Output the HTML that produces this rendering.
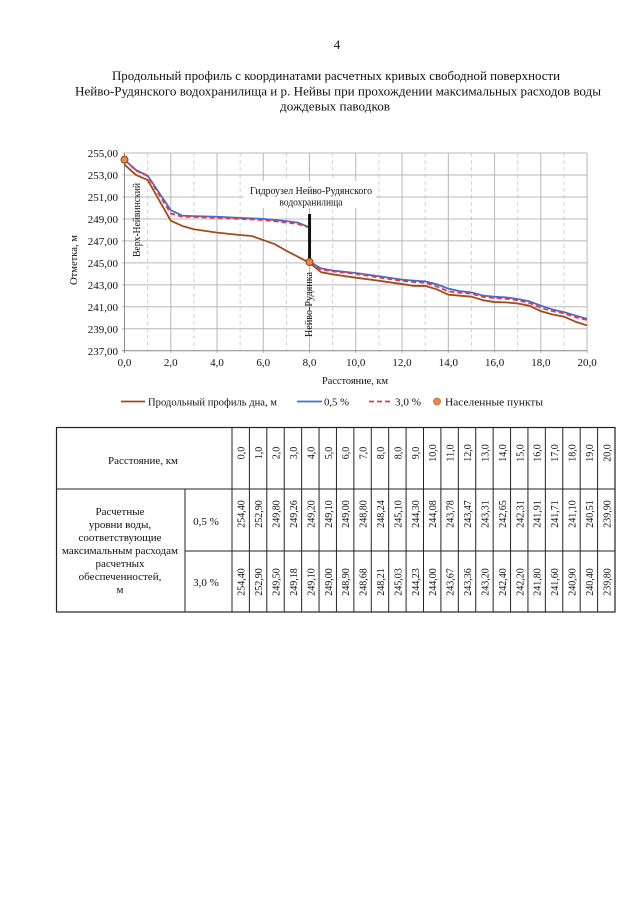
<!DOCTYPE html>
<html><head><meta charset="utf-8"><style>
html,body{margin:0;padding:0;background:#fff;}
svg{display:block;}
text{font-family:"Liberation Serif","Noto Serif CJK SC",serif;fill:#111;}
</style></head><body>
<svg width="640" height="905" viewBox="0 0 640 905" xmlns="http://www.w3.org/2000/svg">
<rect width="640" height="905" fill="#fff"/>
<!-- Header -->
<text x="337" y="49" font-size="13" text-anchor="middle">4</text>
<text x="336" y="80" font-size="13" text-anchor="middle" textLength="448" lengthAdjust="spacingAndGlyphs">Продольный профиль с координатами расчетных кривых свободной поверхности</text>
<text x="338" y="95.5" font-size="13" text-anchor="middle" textLength="526" lengthAdjust="spacingAndGlyphs">Нейво-Рудянского водохранилища и р. Нейвы при прохождении максимальных расходов воды</text>
<text x="335" y="110.5" font-size="13" text-anchor="middle" textLength="110" lengthAdjust="spacingAndGlyphs">дождевых паводков</text>

<!-- Grid -->
<g stroke="#d2d2d2" stroke-width="1" stroke-dasharray="4,3">
<line x1="147.63" y1="153" x2="147.63" y2="350.7"/>
<line x1="193.89" y1="153" x2="193.89" y2="350.7"/>
<line x1="240.15" y1="153" x2="240.15" y2="350.7"/>
<line x1="286.41" y1="153" x2="286.41" y2="350.7"/>
<line x1="332.67" y1="153" x2="332.67" y2="350.7"/>
<line x1="378.93" y1="153" x2="378.93" y2="350.7"/>
<line x1="425.19" y1="153" x2="425.19" y2="350.7"/>
<line x1="471.45" y1="153" x2="471.45" y2="350.7"/>
<line x1="517.71" y1="153" x2="517.71" y2="350.7"/>
<line x1="563.97" y1="153" x2="563.97" y2="350.7"/>
</g>
<g stroke="#b8b8b8" stroke-width="1">
<line x1="170.76" y1="153" x2="170.76" y2="353"/>
<line x1="217.02" y1="153" x2="217.02" y2="353"/>
<line x1="263.28" y1="153" x2="263.28" y2="353"/>
<line x1="309.54" y1="153" x2="309.54" y2="353"/>
<line x1="355.8" y1="153" x2="355.8" y2="353"/>
<line x1="402.06" y1="153" x2="402.06" y2="353"/>
<line x1="448.32" y1="153" x2="448.32" y2="353"/>
<line x1="494.58" y1="153" x2="494.58" y2="353"/>
<line x1="540.84" y1="153" x2="540.84" y2="353"/>
<line x1="587.1" y1="153" x2="587.1" y2="353"/>
<line x1="122" y1="153.06" x2="587.1" y2="153.06"/>
<line x1="122" y1="175.02" x2="587.1" y2="175.02"/>
<line x1="122" y1="196.98" x2="587.1" y2="196.98"/>
<line x1="122" y1="218.94" x2="587.1" y2="218.94"/>
<line x1="122" y1="240.9" x2="587.1" y2="240.9"/>
<line x1="122" y1="262.86" x2="587.1" y2="262.86"/>
<line x1="122" y1="284.82" x2="587.1" y2="284.82"/>
<line x1="122" y1="306.78" x2="587.1" y2="306.78"/>
<line x1="122" y1="328.74" x2="587.1" y2="328.74"/>
</g>
<g stroke="#888" stroke-width="1">
<line x1="124.5" y1="153" x2="124.5" y2="353"/>
<line x1="122" y1="350.7" x2="587.1" y2="350.7"/>
</g>

<!-- Y tick labels -->
<g font-size="11" text-anchor="end">
<text x="118" y="157">255,00</text>
<text x="118" y="179">253,00</text>
<text x="118" y="201">251,00</text>
<text x="118" y="223">249,00</text>
<text x="118" y="245">247,00</text>
<text x="118" y="267">245,00</text>
<text x="118" y="289">243,00</text>
<text x="118" y="311">241,00</text>
<text x="118" y="333">239,00</text>
<text x="118" y="355">237,00</text>
</g>
<!-- X tick labels -->
<g font-size="11" text-anchor="middle">
<text x="124.5" y="366">0,0</text>
<text x="170.76" y="366">2,0</text>
<text x="217.02" y="366">4,0</text>
<text x="263.28" y="366">6,0</text>
<text x="309.54" y="366">8,0</text>
<text x="355.8" y="366">10,0</text>
<text x="402.06" y="366">12,0</text>
<text x="448.32" y="366">14,0</text>
<text x="494.58" y="366">16,0</text>
<text x="540.84" y="366">18,0</text>
<text x="587.1" y="366">20,0</text>
</g>
<text x="355" y="384" font-size="11" text-anchor="middle" textLength="66" lengthAdjust="spacingAndGlyphs">Расстояние, км</text>
<text transform="translate(77,260) rotate(-90)" font-size="11" text-anchor="middle" textLength="50" lengthAdjust="spacingAndGlyphs">Отметка, м</text>

<!-- Annotation box -->
<rect x="244" y="181" width="132" height="27" fill="#fff"/>
<text x="311" y="194" font-size="11" text-anchor="middle" textLength="122" lengthAdjust="spacingAndGlyphs">Гидроузел Нейво-Рудянского</text>
<text x="311" y="205.5" font-size="11" text-anchor="middle" textLength="63" lengthAdjust="spacingAndGlyphs">водохранилища</text>

<!-- Series -->
<polyline fill="none" stroke="#9e4b20" stroke-width="1.8" stroke-linejoin="round" points="124.5,164.6 136.07,175.02 147.63,179.96 170.76,220.7 182.33,225.97 193.89,229.26 217.02,232.66 240.15,234.97 251.72,235.96 274.85,244.19 286.41,250.78 309.54,262.86 321.11,272.19 332.67,274.39 355.8,277.68 378.93,280.76 402.06,284.05 413.63,285.92 425.19,285.92 436.76,289.32 448.32,294.7 471.45,296.68 483.02,300.19 494.58,302.06 506.15,302.39 517.71,303.49 529.28,305.68 540.84,311.17 552.41,314.47 563.97,316.66 575.54,321.71 587.1,325.45"/>
<polyline fill="none" stroke="#3d6fd6" stroke-width="1.8" stroke-linejoin="round" points="124.5,159.65 136.07,170.08 147.63,175.68 170.76,210.16 182.33,215.65 193.89,216.09 217.02,216.74 240.15,217.84 263.28,218.94 286.41,221.14 297.98,222.67 309.54,227.28 309.54,261.76 321.11,268.35 332.67,270.55 355.8,272.96 378.93,276.26 402.06,279.66 413.63,280.65 425.19,281.42 436.76,284.27 448.32,288.66 459.89,291.19 471.45,292.4 483.02,295.58 494.58,296.79 506.15,297.45 517.71,298.98 529.28,301.29 540.84,305.68 552.41,309.52 563.97,312.16 575.54,315.56 587.1,318.86"/>
<polyline fill="none" stroke="#e8383d" stroke-width="1.8" stroke-dasharray="5,3" stroke-linejoin="round" points="124.5,159.65 136.07,170.63 147.63,176.12 170.76,213.45 182.33,216.74 193.89,216.96 217.02,217.84 240.15,218.94 263.28,220.04 286.41,222.45 297.98,223.88 309.54,227.61 309.54,262.53 321.11,269.45 332.67,271.31 355.8,273.84 378.93,277.46 402.06,280.87 413.63,281.97 425.19,282.62 436.76,286.47 448.32,291.41 459.89,292.73 471.45,293.6 483.02,296.9 494.58,298.0 506.15,298.87 517.71,300.19 529.28,302.94 540.84,307.88 552.41,311.17 563.97,313.37 575.54,317.21 587.1,319.96"/>
<line x1="309.54" y1="214" x2="309.54" y2="262" stroke="#111" stroke-width="3"/>
<circle cx="124.5" cy="159.65" r="3.5" fill="#e8894a" stroke="#8b4513" stroke-width="1"/>
<circle cx="309.54" cy="262" r="3.5" fill="#e8894a" stroke="#8b4513" stroke-width="1"/>

<!-- Point labels -->
<text transform="translate(140,220) rotate(-90)" font-size="11" text-anchor="middle" textLength="74" lengthAdjust="spacingAndGlyphs">Верх-Нейвинский</text>
<text transform="translate(312,304.5) rotate(-90)" font-size="11" text-anchor="middle" textLength="65" lengthAdjust="spacingAndGlyphs">Нейво-Рудянка</text>

<!-- Legend -->
<line x1="121" y1="401.5" x2="145" y2="401.5" stroke="#9e4b20" stroke-width="1.8"/>
<text x="148" y="405.5" font-size="11" textLength="129" lengthAdjust="spacingAndGlyphs">Продольный профиль дна, м</text>
<line x1="297" y1="401.5" x2="322" y2="401.5" stroke="#3d6fd6" stroke-width="1.8"/>
<text x="324" y="405.5" font-size="11" textLength="25" lengthAdjust="spacingAndGlyphs">0,5 %</text>
<line x1="369" y1="401.5" x2="393" y2="401.5" stroke="#e8383d" stroke-width="1.8" stroke-dasharray="5,3"/>
<text x="395" y="405.5" font-size="11" textLength="26" lengthAdjust="spacingAndGlyphs">3,0 %</text>
<circle cx="437" cy="401.5" r="3.5" fill="#e8894a" stroke="#c06a30" stroke-width="0.8"/>
<text x="445" y="405.5" font-size="11" textLength="98" lengthAdjust="spacingAndGlyphs">Населенные пункты</text>

<!-- Table -->
<g stroke="#222" stroke-width="1" fill="none">
<rect x="56.5" y="427.5" width="558.5" height="184.5" stroke-width="1.2"/>
<line x1="56.5" y1="489" x2="615" y2="489"/>
<line x1="185" y1="551" x2="615" y2="551"/>
<line x1="185" y1="489" x2="185" y2="612"/>
<line x1="232" y1="427.5" x2="232" y2="612"/>
<line x1="249.41" y1="427.5" x2="249.41" y2="612"/>
<line x1="266.82" y1="427.5" x2="266.82" y2="612"/>
<line x1="284.23" y1="427.5" x2="284.23" y2="612"/>
<line x1="301.64" y1="427.5" x2="301.64" y2="612"/>
<line x1="319.05" y1="427.5" x2="319.05" y2="612"/>
<line x1="336.45" y1="427.5" x2="336.45" y2="612"/>
<line x1="353.86" y1="427.5" x2="353.86" y2="612"/>
<line x1="371.27" y1="427.5" x2="371.27" y2="612"/>
<line x1="388.68" y1="427.5" x2="388.68" y2="612"/>
<line x1="406.09" y1="427.5" x2="406.09" y2="612"/>
<line x1="423.5" y1="427.5" x2="423.5" y2="612"/>
<line x1="440.91" y1="427.5" x2="440.91" y2="612"/>
<line x1="458.32" y1="427.5" x2="458.32" y2="612"/>
<line x1="475.73" y1="427.5" x2="475.73" y2="612"/>
<line x1="493.14" y1="427.5" x2="493.14" y2="612"/>
<line x1="510.55" y1="427.5" x2="510.55" y2="612"/>
<line x1="527.95" y1="427.5" x2="527.95" y2="612"/>
<line x1="545.36" y1="427.5" x2="545.36" y2="612"/>
<line x1="562.77" y1="427.5" x2="562.77" y2="612"/>
<line x1="580.18" y1="427.5" x2="580.18" y2="612"/>
<line x1="597.59" y1="427.5" x2="597.59" y2="612"/>
</g>
<text x="143" y="464" font-size="11" text-anchor="middle" textLength="70" lengthAdjust="spacingAndGlyphs">Расстояние, км</text>
<g font-size="11" text-anchor="middle">
<text x="120" y="515">Расчетные</text>
<text x="120" y="528">уровни воды,</text>
<text x="120" y="541">соответствующие</text>
<text x="120" y="554" textLength="116" lengthAdjust="spacingAndGlyphs">максимальным расходам</text>
<text x="120" y="567">расчетных</text>
<text x="120" y="580">обеспеченностей,</text>
<text x="120" y="593">м</text>
<text x="206" y="525">0,5 %</text>
<text x="206" y="586">3,0 %</text>
</g>
<g font-size="10" text-anchor="middle">
<g transform="translate(244.7,0) rotate(-90)"><text x="-453">0,0</text><text x="-514">254,40</text><text x="-582">254,40</text></g>
<g transform="translate(262.11,0) rotate(-90)"><text x="-453">1,0</text><text x="-514">252,90</text><text x="-582">252,90</text></g>
<g transform="translate(279.52,0) rotate(-90)"><text x="-453">2,0</text><text x="-514">249,80</text><text x="-582">249,50</text></g>
<g transform="translate(296.93,0) rotate(-90)"><text x="-453">3,0</text><text x="-514">249,26</text><text x="-582">249,18</text></g>
<g transform="translate(314.34,0) rotate(-90)"><text x="-453">4,0</text><text x="-514">249,20</text><text x="-582">249,10</text></g>
<g transform="translate(331.75,0) rotate(-90)"><text x="-453">5,0</text><text x="-514">249,10</text><text x="-582">249,00</text></g>
<g transform="translate(349.16,0) rotate(-90)"><text x="-453">6,0</text><text x="-514">249,00</text><text x="-582">248,90</text></g>
<g transform="translate(366.57,0) rotate(-90)"><text x="-453">7,0</text><text x="-514">248,80</text><text x="-582">248,68</text></g>
<g transform="translate(383.98,0) rotate(-90)"><text x="-453">8,0</text><text x="-514">248,24</text><text x="-582">248,21</text></g>
<g transform="translate(401.39,0) rotate(-90)"><text x="-453">8,0</text><text x="-514">245,10</text><text x="-582">245,03</text></g>
<g transform="translate(418.8,0) rotate(-90)"><text x="-453">9,0</text><text x="-514">244,30</text><text x="-582">244,23</text></g>
<g transform="translate(436.2,0) rotate(-90)"><text x="-453">10,0</text><text x="-514">244,08</text><text x="-582">244,00</text></g>
<g transform="translate(453.61,0) rotate(-90)"><text x="-453">11,0</text><text x="-514">243,78</text><text x="-582">243,67</text></g>
<g transform="translate(471.02,0) rotate(-90)"><text x="-453">12,0</text><text x="-514">243,47</text><text x="-582">243,36</text></g>
<g transform="translate(488.43,0) rotate(-90)"><text x="-453">13,0</text><text x="-514">243,31</text><text x="-582">243,20</text></g>
<g transform="translate(505.84,0) rotate(-90)"><text x="-453">14,0</text><text x="-514">242,65</text><text x="-582">242,40</text></g>
<g transform="translate(523.25,0) rotate(-90)"><text x="-453">15,0</text><text x="-514">242,31</text><text x="-582">242,20</text></g>
<g transform="translate(540.66,0) rotate(-90)"><text x="-453">16,0</text><text x="-514">241,91</text><text x="-582">241,80</text></g>
<g transform="translate(558.07,0) rotate(-90)"><text x="-453">17,0</text><text x="-514">241,71</text><text x="-582">241,60</text></g>
<g transform="translate(575.48,0) rotate(-90)"><text x="-453">18,0</text><text x="-514">241,10</text><text x="-582">240,90</text></g>
<g transform="translate(592.89,0) rotate(-90)"><text x="-453">19,0</text><text x="-514">240,51</text><text x="-582">240,40</text></g>
<g transform="translate(610.3,0) rotate(-90)"><text x="-453">20,0</text><text x="-514">239,90</text><text x="-582">239,80</text></g>
</g>
</svg>
</body></html>
